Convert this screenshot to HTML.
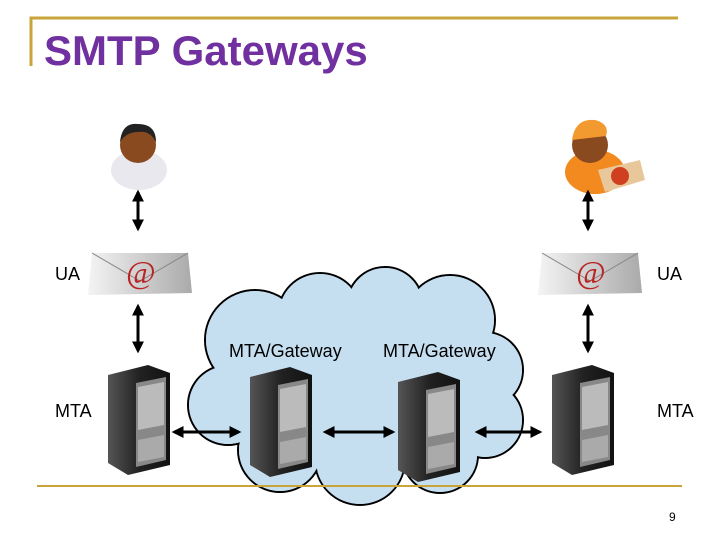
<!DOCTYPE html>
<html><head><style>
body{margin:0;background:#fff;}
svg{display:block;font-family:"Liberation Sans",sans-serif;}
</style></head><body>
<svg width="720" height="540" viewBox="0 0 720 540">
<defs>
<marker id="a" viewBox="0 0 10 10" refX="8" refY="5" markerWidth="4" markerHeight="4" orient="auto-start-reverse"><path d="M0,0L10,5L0,10z" fill="#000"/></marker>
<linearGradient id="srv" x1="0" x2="1"><stop offset="0" stop-color="#555"/><stop offset=".5" stop-color="#222"/><stop offset="1" stop-color="#111"/></linearGradient>
<linearGradient id="envg" x1="0" x2="1"><stop offset="0" stop-color="#f4f4f4"/><stop offset="1" stop-color="#aaa"/></linearGradient>
<g id="server">
<path d="M0,10 L40,0 L62,8 L62,100 L20,110 L0,98 Z" fill="url(#srv)"/>
<path d="M28,18 L58,12 L58,95 L28,102 Z" fill="#888"/>
<path d="M30,22 L56,17 L56,60 L30,65 Z" fill="#bbb"/>
<path d="M30,75 L56,70 L56,92 L30,97 Z" fill="#aaa"/>
</g>
<g id="envelope"><path d="M4,0 L100,0 L104,40 L0,42 Z" fill="url(#envg)"/><path d="M4,0 L52,28 L100,0" fill="none" stroke="#888" stroke-width="1"/><text x="38" y="30" font-family="Liberation Serif,serif" font-style="italic" font-size="32" fill="#b22">@</text></g>
</defs>
<path d="M31,66 V18 H678" fill="none" stroke="#c8a43a" stroke-width="3"/>
<text x="44" y="65" font-size="42" font-weight="bold" fill="#7030a0">SMTP Gateways</text>
<g stroke="#000" stroke-width="2" fill="#c5dff0">
<circle cx="255" cy="340" r="50"/><circle cx="320" cy="315" r="42"/><circle cx="385" cy="305" r="38"/><circle cx="450" cy="320" r="45"/><circle cx="485" cy="370" r="38"/><circle cx="485" cy="420" r="38"/><circle cx="440" cy="455" r="38"/><circle cx="360" cy="460" r="45"/><circle cx="280" cy="450" r="42"/><circle cx="228" cy="405" r="40"/>
</g>
<g fill="#c5dff0">
<circle cx="255" cy="340" r="49"/><circle cx="320" cy="315" r="41"/><circle cx="385" cy="305" r="37"/><circle cx="450" cy="320" r="44"/><circle cx="485" cy="370" r="37"/><circle cx="485" cy="420" r="37"/><circle cx="440" cy="455" r="37"/><circle cx="360" cy="460" r="44"/><circle cx="280" cy="450" r="41"/><circle cx="228" cy="405" r="39"/><ellipse cx="360" cy="390" rx="130" ry="80"/>
</g>
<line x1="37" y1="486" x2="682" y2="486" stroke="#c8a43a" stroke-width="2"/>
<g><ellipse cx="139" cy="170" rx="28" ry="20" fill="#e8e8ee"/><circle cx="138" cy="145" r="18" fill="#8a4a20"/><path d="M120,142 Q122,122 138,124 Q156,124 156,142 Q150,130 138,132 Q126,132 120,142Z" fill="#222"/></g>
<g><ellipse cx="595" cy="172" rx="30" ry="22" fill="#f28a20"/><circle cx="590" cy="145" r="18" fill="#8a4a20"/><path d="M572,140 Q575,118 595,120 Q610,124 606,136 Z" fill="#f29a30"/><path d="M598,170 L640,160 L645,180 L605,192 Z" fill="#e8c89a"/><circle cx="620" cy="176" r="9" fill="#d04020"/></g>
<use href="#envelope" x="88" y="253"/><use href="#envelope" x="538" y="253"/>
<use href="#server" x="108" y="365"/><use href="#server" x="250" y="367"/><use href="#server" x="398" y="372"/><use href="#server" x="552" y="365"/>
<g stroke="#000" stroke-width="3" marker-start="url(#a)" marker-end="url(#a)">
<line x1="138" y1="192" x2="138" y2="229"/><line x1="138" y1="306" x2="138" y2="351"/>
<line x1="588" y1="192" x2="588" y2="229"/><line x1="588" y1="306" x2="588" y2="351"/>
<line x1="174" y1="432" x2="239" y2="432"/><line x1="325" y1="432" x2="393" y2="432"/><line x1="477" y1="432" x2="540" y2="432"/>
</g>
<g font-size="18" fill="#000">
<text x="55" y="280">UA</text><text x="657" y="280">UA</text>
<text x="55" y="417">MTA</text><text x="657" y="417">MTA</text>
<text x="229" y="357">MTA/Gateway</text><text x="383" y="357">MTA/Gateway</text>
</g>
<text x="669" y="521" font-size="12">9</text>
</svg>
</body></html>
